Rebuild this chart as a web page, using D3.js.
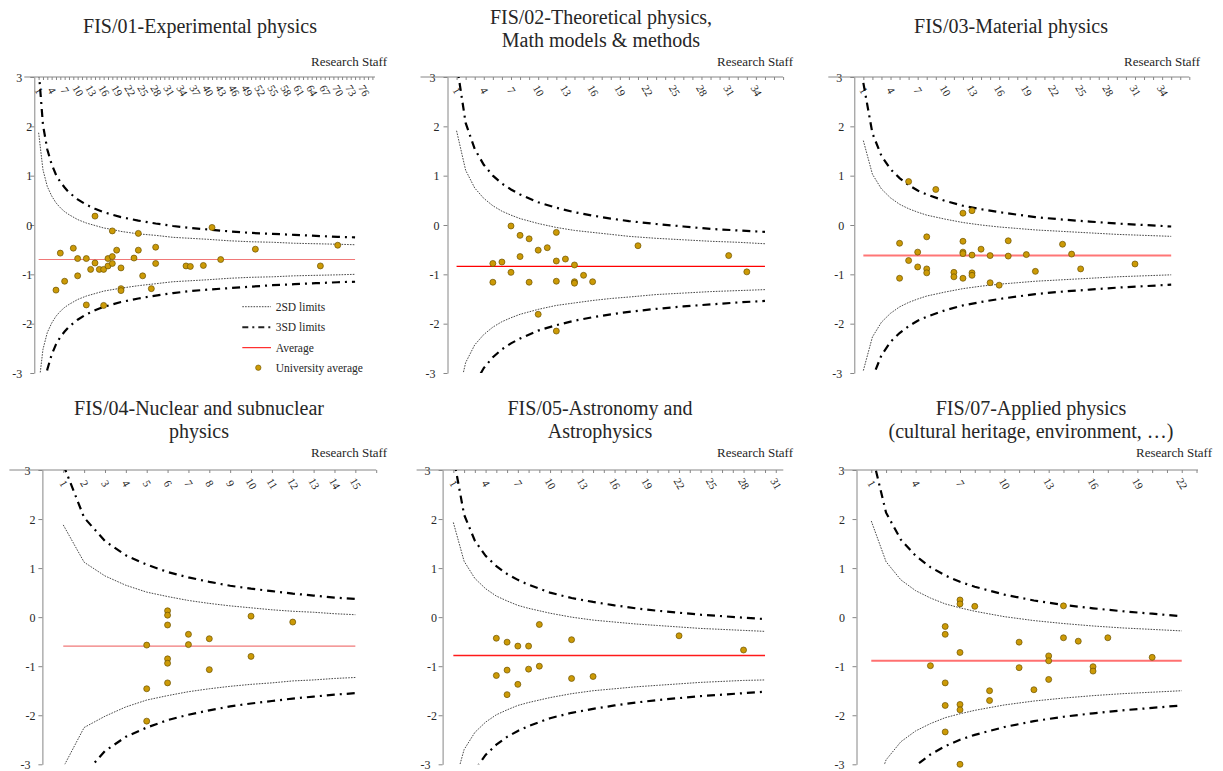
<!DOCTYPE html>
<html>
<head>
<meta charset="utf-8">
<script src="https://cdn.jsdelivr.net/npm/d3@7"></script>
<style>
body { margin: 0; background: #fff; }
svg { display: block; }
text { font-family: "Liberation Serif", "Times New Roman", serif; fill: #262626; }
</style>
</head>
<body>
<svg id="chart" width="1223" height="771"></svg>
<script>
// ---- data ----
const panelTitles = [
    ["FIS/01-Experimental physics"],
    ["FIS/02-Theoretical physics,", "Math models & methods"],
    ["FIS/03-Material physics"],
    ["FIS/04-Nuclear and subnuclear", "physics"],
    ["FIS/05-Astronomy and", "Astrophysics"],
    ["FIS/07-Applied physics", "(cultural heritage, environment, \u2026)"]
];
const xAxisTitle = "Research Staff";
const yTicks = [3, 2, 1, 0, -1, -2, -3];
const xAxisMax = [78.6, 37, 37, 16, 31.7, 23.1];
const xLabelMax = [76, 34, 34, 15, 31, 22];
const xLabelStep = [3, 3, 3, 1, 3, 3];
const averages = [-0.70, -0.84, -0.62, -0.59, -0.78, -0.89];
const legendLabels = ["2SD limits", "3SD limits", "Average", "University average"];

const fis01Staff = [5,6,7,9,10,10,12,12,13,14,14,15,16,16,17,17,18,18,18,19,20,20,20,23,24,24,25,27,28,28,35,36,39,41,43,51,66,70];
const fis01Score = [-1.32,-0.57,-1.14,-0.47,-0.68,-1.03,-0.68,-1.62,-0.90,0.18,-0.77,-0.90,-0.90,-1.63,-0.83,-0.68,-0.12,-0.64,-0.78,-0.51,-0.87,-1.29,-1.33,-0.67,-0.17,-0.51,-1.03,-1.29,-0.45,-0.78,-0.83,-0.84,-0.82,-0.05,-0.70,-0.49,-0.83,-0.41];
const fis02Staff = [5,5,6,7,7,8,8,9,9,10,10,11,12,12,12,12,13,14,14,14,15,16,21,31,33];
const fis02Score = [-0.78,-1.16,-0.75,-0.02,-0.96,-0.21,-0.64,-0.28,-1.16,-0.51,-1.81,-0.46,-0.15,-0.73,-1.14,-2.15,-0.69,-0.81,-1.15,-1.18,-1.02,-1.15,-0.42,-0.62,-0.95];
const fis03Staff = [5,5,6,6,7,7,8,8,8,9,11,11,12,12,12,12,12,13,13,13,13,14,15,15,16,17,17,19,20,23,24,25,31];
const fis03Score = [-0.37,-1.08,0.88,-0.72,-0.55,-0.85,-0.24,-0.89,-0.97,0.72,-0.96,-1.05,0.24,-0.33,-0.55,-0.58,-1.08,0.29,-0.61,-0.97,-1.02,-0.49,-0.62,-1.17,-1.22,-0.32,-0.63,-0.60,-0.94,-0.39,-0.59,-0.89,-0.79];
const fis04Staff = [5,5,5,6,6,6,6,6,6,7,7,8,8,10,10,12];
const fis04Score = [-0.57,-1.46,-2.12,0.13,0.04,-0.16,-0.85,-0.94,-1.34,-0.35,-0.56,-0.44,-1.07,0.02,-0.80,-0.10];
const fis05Staff = [5,5,6,6,6,7,7,8,8,9,9,12,12,14,22,28];
const fis05Score = [-0.43,-1.19,-0.51,-1.08,-1.58,-0.59,-1.37,-0.59,-1.06,-0.15,-1.00,-0.46,-1.25,-1.21,-0.38,-0.67];
const fis07Staff = [5,6,6,6,6,6,7,7,7,7,7,7,8,9,9,11,11,12,13,13,13,14,14,15,16,16,17,20];
const fis07Score = [-0.99,-0.19,-0.35,-1.34,-1.80,-2.34,0.35,0.27,-0.72,-1.78,-1.89,-3.0,0.22,-1.50,-1.70,-0.51,-1.03,-1.48,-0.79,-0.89,-1.27,0.23,-0.42,-0.49,-1.01,-1.10,-0.42,-0.82];

// control limits (read at a set of staff sizes)
const fis01LimitN = [1,2,3,4,5,6,7,8,10,12,14,16,18,20,24,28,32,36,40,45,50,55,60,65,70,74];
const fis01Upper2 = [1.87,1.12,0.78,0.59,0.45,0.35,0.27,0.21,0.11,0.04,-0.01,-0.06,-0.09,-0.13,-0.18,-0.21,-0.25,-0.27,-0.29,-0.32,-0.34,-0.35,-0.37,-0.38,-0.39,-0.40];
const fis01Lower2 = [-3.27,-2.52,-2.18,-1.99,-1.85,-1.75,-1.67,-1.61,-1.51,-1.44,-1.39,-1.34,-1.31,-1.28,-1.23,-1.19,-1.15,-1.13,-1.11,-1.08,-1.06,-1.05,-1.03,-1.02,-1.01,-1.00];
const fis01Upper3 = [3.16,2.03,1.53,1.23,1.02,0.87,0.76,0.66,0.52,0.41,0.33,0.26,0.21,0.16,0.09,0.03,-0.02,-0.06,-0.09,-0.13,-0.16,-0.18,-0.20,-0.22,-0.24,-0.25];
const fis01Lower3 = [-4.56,-3.43,-2.93,-2.63,-2.42,-2.27,-2.16,-2.06,-1.92,-1.81,-1.73,-1.66,-1.61,-1.56,-1.49,-1.43,-1.38,-1.34,-1.31,-1.28,-1.25,-1.22,-1.20,-1.18,-1.16,-1.15];

const fis02LimitN = [1,2,3,4,5,6,7,8,10,12,14,16,18,20,23,26,29,32,35];
const fis02Upper2 = [1.91,1.11,0.75,0.54,0.39,0.28,0.20,0.13,0.03,-0.05,-0.11,-0.15,-0.19,-0.23,-0.27,-0.30,-0.33,-0.35,-0.38];
const fis02Lower2 = [-3.59,-2.79,-2.43,-2.22,-2.07,-1.96,-1.88,-1.81,-1.71,-1.63,-1.58,-1.53,-1.49,-1.46,-1.41,-1.38,-1.35,-1.33,-1.31];
const fis02Upper3 = [3.28,2.07,1.54,1.22,1.00,0.84,0.72,0.62,0.46,0.35,0.26,0.19,0.13,0.08,0.02,-0.03,-0.08,-0.11,-0.14];
const fis02Lower3 = [-4.96,-3.75,-3.22,-2.90,-2.68,-2.52,-2.40,-2.30,-2.14,-2.03,-1.94,-1.87,-1.81,-1.76,-1.70,-1.65,-1.61,-1.57,-1.54];

const fis03LimitN = [1,2,3,4,5,6,7,8,10,12,14,16,18,20,23,26,29,32,35];
const fis03Upper2 = [1.71,1.03,0.73,0.55,0.42,0.33,0.26,0.20,0.12,0.05,0.00,-0.04,-0.07,-0.10,-0.13,-0.16,-0.19,-0.21,-0.23];
const fis03Lower2 = [-2.95,-2.27,-1.97,-1.79,-1.66,-1.57,-1.50,-1.44,-1.36,-1.29,-1.24,-1.20,-1.17,-1.14,-1.11,-1.08,-1.05,-1.03,-1.01];
const fis03Upper3 = [2.88,1.86,1.40,1.13,0.95,0.81,0.70,0.62,0.49,0.39,0.32,0.26,0.21,0.16,0.11,0.07,0.03,0.00,-0.03];
const fis03Lower3 = [-4.12,-3.10,-2.64,-2.37,-2.19,-2.05,-1.94,-1.86,-1.73,-1.63,-1.56,-1.50,-1.45,-1.40,-1.35,-1.31,-1.27,-1.24,-1.21];

const fis04LimitN = [1,2,3,4,5,6,7,8,9,10,11,12,13,14,15];
const fis04Upper2 = [1.88,1.12,0.84,0.65,0.51,0.42,0.34,0.28,0.23,0.19,0.15,0.12,0.10,0.07,0.05];
const fis04Lower2 = [-3.06,-2.25,-2.02,-1.83,-1.69,-1.60,-1.52,-1.46,-1.41,-1.37,-1.34,-1.30,-1.28,-1.25,-1.23];
const fis04Upper3 = [3.11,2.03,1.55,1.26,1.07,0.92,0.81,0.72,0.64,0.58,0.53,0.48,0.44,0.40,0.37];
const fis04Lower3 = [-4.29,-3.21,-2.73,-2.44,-2.25,-2.10,-1.99,-1.90,-1.82,-1.76,-1.71,-1.66,-1.62,-1.58,-1.55];

const fis05LimitN = [1,2,3,4,5,6,7,8,10,12,14,16,18,20,22,24,26,28,30];
const fis05Upper2 = [1.93,1.14,0.79,0.58,0.43,0.33,0.24,0.18,0.08,0.00,-0.06,-0.10,-0.14,-0.17,-0.20,-0.23,-0.25,-0.27,-0.29];
const fis05Lower2 = [-3.49,-2.70,-2.35,-2.14,-1.99,-1.89,-1.80,-1.74,-1.64,-1.56,-1.50,-1.46,-1.42,-1.39,-1.36,-1.33,-1.31,-1.29,-1.28];
const fis05Upper3 = [3.28,2.09,1.56,1.25,1.04,0.88,0.76,0.66,0.50,0.39,0.31,0.24,0.18,0.13,0.09,0.05,0.02,-0.01,-0.04];
const fis05Lower3 = [-4.84,-3.65,-3.12,-2.81,-2.60,-2.44,-2.32,-2.22,-2.06,-1.95,-1.87,-1.80,-1.74,-1.69,-1.65,-1.61,-1.58,-1.55,-1.52];

const fis07LimitN = [1,2,3,4,5,6,7,8,10,12,14,16,18,20,22];
const fis07Upper2 = [1.96,1.13,0.76,0.54,0.39,0.27,0.19,0.12,0.01,-0.07,-0.13,-0.18,-0.22,-0.25,-0.28];
const fis07Lower2 = [-3.74,-2.91,-2.54,-2.32,-2.17,-2.05,-1.97,-1.90,-1.79,-1.71,-1.65,-1.60,-1.56,-1.53,-1.50];
const fis07Upper3 = [3.38,2.13,1.58,1.25,1.02,0.85,0.72,0.62,0.46,0.34,0.25,0.18,0.12,0.07,0.02];
const fis07Lower3 = [-5.16,-3.91,-3.36,-3.03,-2.80,-2.63,-2.50,-2.40,-2.24,-2.12,-2.03,-1.96,-1.90,-1.85,-1.80];

// ---- layout (positions / styles only) ----
const layout = [
    { left: 34.3,  width: 340.7, top: 77,  bottom: 373,   titleX: 200,  titleY: [32.5],        staffRight: 387,  staffY: 66,  axisExt: 10, yGap: 2,   avgColor: "#f07878", avgWidth: 1.1 },
    { left: 447.5, width: 335.6, top: 77,  bottom: 373,   titleX: 601,  titleY: [23.5, 46.5],  staffRight: 793,  staffY: 66,  axisExt: 27, yGap: 8,   avgColor: "#ff0000", avgWidth: 1.3 },
    { left: 854.3, width: 335,   top: 77,  bottom: 373,   titleX: 1011, titleY: [32.5],        staffRight: 1200, staffY: 66,  axisExt: 26, yGap: 10,  avgColor: "#ff7676", avgWidth: 2 },
    { left: 42.4,  width: 333.8, top: 470, bottom: 764.3, titleX: 199,  titleY: [414.5, 437.5], staffRight: 387, staffY: 457, axisExt: 33, yGap: 7,   avgColor: "#f07878", avgWidth: 1.2 },
    { left: 442.6, width: 340.7, top: 470, bottom: 764.3, titleX: 600,  titleY: [414.5, 437.5], staffRight: 793, staffY: 457, axisExt: 26, yGap: 5.5, avgColor: "#ff1a1a", avgWidth: 1.5 },
    { left: 856.5, width: 341.5, top: 470, bottom: 764.3, titleX: 1031, titleY: [414.5, 437.5], staffRight: 1212, staffY: 457, axisExt: 14, yGap: 11.5, avgColor: "#ff7070", avgWidth: 2 }
];

const staffData = [fis01Staff, fis02Staff, fis03Staff, fis04Staff, fis05Staff, fis07Staff];
const scoreData = [fis01Score, fis02Score, fis03Score, fis04Score, fis05Score, fis07Score];
const limitN = [fis01LimitN, fis02LimitN, fis03LimitN, fis04LimitN, fis05LimitN, fis07LimitN];
const upper2 = [fis01Upper2, fis02Upper2, fis03Upper2, fis04Upper2, fis05Upper2, fis07Upper2];
const lower2 = [fis01Lower2, fis02Lower2, fis03Lower2, fis04Lower2, fis05Lower2, fis07Lower2];
const upper3 = [fis01Upper3, fis02Upper3, fis03Upper3, fis04Upper3, fis05Upper3, fis07Upper3];
const lower3 = [fis01Lower3, fis02Lower3, fis03Lower3, fis04Lower3, fis05Lower3, fis07Lower3];

const axisColor = "#868686";
const dotFill = "#cc9a06";
const dotStroke = "#6b5200";
const dash2 = "1.6,1.2";
const dash3 = "8,5,2,5";

const svg = d3.select("#chart");
svg.append("rect").attr("width", 1223).attr("height", 771).attr("fill", "#fff");
const defs = svg.append("defs");

panelTitles.forEach((title, i) => drawPanel(i));
drawLegend(layout[0]);

function drawPanel(i) {
    const L = layout[i];
    const x = d3.scaleLinear().domain([0, xAxisMax[i]]).range([L.left, L.left + L.width]);
    const y = d3.scaleLinear().domain([-3, 3]).range([L.bottom, L.top]);
    const g = svg.append("g");

    // title
    const title = g.append("text")
        .attr("text-anchor", "middle")
        .style("font-size", "20px");
    panelTitles[i].forEach((line, k) => {
        title.append("tspan").attr("x", L.titleX).attr("y", L.titleY[k]).text(line);
    });

    g.append("text")
        .attr("x", L.staffRight)
        .attr("y", L.staffY)
        .attr("text-anchor", "end")
        .style("font-size", "13px")
        .text(xAxisTitle);

    // y axis
    const yAxis = g.append("g")
        .attr("transform", `translate(${L.left},0)`)
        .call(d3.axisLeft(y).tickValues(yTicks).tickSize(4).tickSizeOuter(0).tickFormat(d => String(d)));
    yAxis.select(".domain").attr("stroke", axisColor);
    yAxis.selectAll(".tick line").attr("stroke", axisColor);
    yAxis.selectAll(".tick text")
        .attr("x", d => Math.abs(d) === 3 ? -12 : -L.yGap)
        .attr("dy", "0.35em")
        .style("font-family", "'Liberation Serif', serif")
        .style("font-size", "12px")
        .attr("fill", "#333");

    // x axis along the top (y = 3)
    const xTickVals = d3.range(1, Math.floor(xAxisMax[i]) + 1);
    const labelSet = new Set(d3.range(1, xLabelMax[i] + 1, xLabelStep[i]));
    const xAxis = g.append("g")
        .attr("transform", `translate(0,${L.top})`)
        .call(d3.axisBottom(x).tickValues(xTickVals).tickSize(3).tickSizeOuter(0)
            .tickFormat(d => labelSet.has(d) ? String(d) : ""));
    xAxis.select(".domain").remove();
    xAxis.selectAll(".tick line").attr("stroke", axisColor);
    xAxis.selectAll(".tick text")
        .attr("y", 0)
        .attr("dy", null)
        .attr("text-anchor", "middle")
        .attr("dominant-baseline", "central")
        .attr("transform", "translate(0,13.5) rotate(60)")
        .style("font-family", "'Liberation Serif', serif")
        .style("font-size", "11px")
        .attr("fill", "#333");
    g.append("line")
        .attr("x1", L.left - L.axisExt).attr("x2", L.left + L.width)
        .attr("y1", L.top).attr("y2", L.top)
        .attr("stroke", axisColor);

    // clipped limit lines and average
    const clipId = "plot-clip-" + i;
    defs.append("clipPath").attr("id", clipId)
        .append("rect")
        .attr("x", L.left).attr("y", L.top)
        .attr("width", L.width).attr("height", L.bottom - L.top);
    const plot = g.append("g").attr("clip-path", `url(#${clipId})`);

    const line = d3.line().x(d => x(d[0])).y(d => y(d[1]));
    const ns = limitN[i];
    const series = [
        { vals: upper2[i], dash: dash2, width: 0.9, color: "#333" },
        { vals: lower2[i], dash: dash2, width: 0.9, color: "#333" },
        { vals: upper3[i], dash: dash3, width: 2.2, color: "#000" },
        { vals: lower3[i], dash: dash3, width: 2.2, color: "#000" }
    ];
    series.forEach(s => {
        plot.append("path")
            .datum(ns.map((n, k) => [n, s.vals[k]]))
            .attr("d", line)
            .attr("fill", "none")
            .attr("stroke", s.color)
            .attr("stroke-width", s.width)
            .attr("stroke-dasharray", s.dash);
    });

    plot.append("path")
        .datum([[ns[0], averages[i]], [ns[ns.length - 1], averages[i]]])
        .attr("d", line)
        .attr("fill", "none")
        .attr("stroke", L.avgColor)
        .attr("stroke-width", L.avgWidth);

    // university averages
    g.append("g").selectAll("circle")
        .data(staffData[i].map((n, k) => ({ n: n, v: scoreData[i][k] })))
        .enter().append("circle")
        .attr("cx", d => x(d.n))
        .attr("cy", d => y(d.v))
        .attr("r", 3)
        .attr("fill", dotFill)
        .attr("stroke", dotStroke)
        .attr("stroke-width", 0.7);
}

function drawLegend(L) {
    const rows = [306.7, 327.3, 347.7, 367.7];
    const lg = svg.append("g");
    const styles = [
        { dash: dash2, width: 0.9, color: "#333" },
        { dash: "6,4,2,4", width: 2, color: "#222" },
        { dash: null, width: 1, color: "#ff0000" }
    ];
    styles.forEach((s, k) => {
        lg.append("line")
            .attr("x1", 242.3).attr("x2", 271)
            .attr("y1", rows[k]).attr("y2", rows[k])
            .attr("stroke", s.color)
            .attr("stroke-width", s.width)
            .attr("stroke-dasharray", s.dash);
    });
    lg.append("circle")
        .attr("cx", 258.3).attr("cy", rows[3]).attr("r", 2.7)
        .attr("fill", dotFill).attr("stroke", dotStroke).attr("stroke-width", 0.6);
    lg.selectAll("text.legend-label")
        .data(legendLabels)
        .enter().append("text")
        .attr("class", "legend-label")
        .attr("x", 275.7)
        .attr("y", (d, k) => rows[k] + 3.8)
        .style("font-size", "11.5px")
        .text(d => d);
}
</script>
</body>
</html>
